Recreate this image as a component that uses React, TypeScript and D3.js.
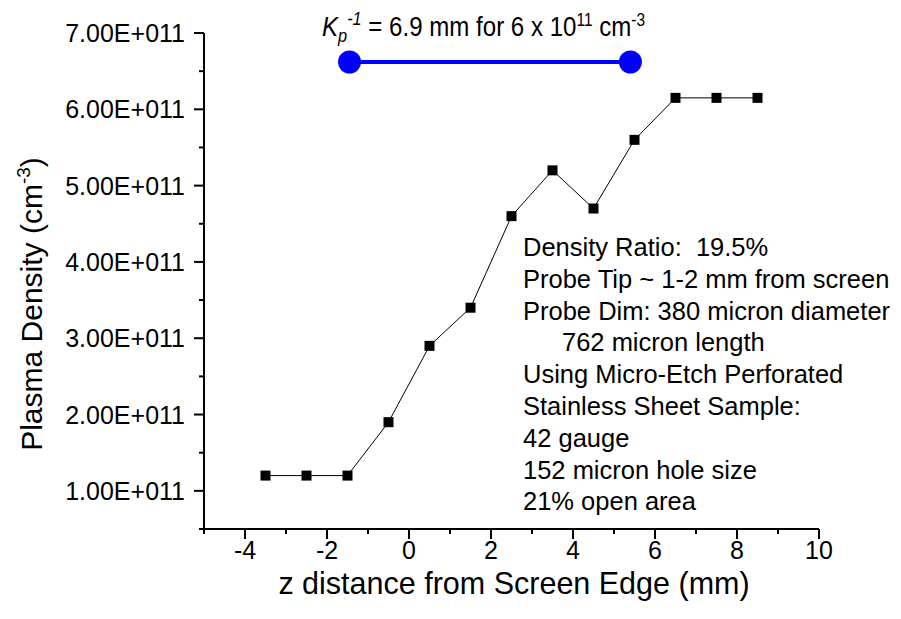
import React from "react";
import * as d3 from "d3";

const zValues = [-3.5, -2.5, -1.5, -0.5, 0.5, 1.5, 2.5, 3.5, 4.5, 5.5, 6.5, 7.5, 8.5];
const densityValues = [1.2e11, 1.2e11, 1.2e11, 1.9e11, 2.9e11, 3.4e11, 4.6e11, 5.2e11, 4.7e11, 5.6e11, 6.15e11, 6.15e11, 6.15e11];
const xMajorTicks = [-4, -2, 0, 2, 4, 6, 8, 10];
const xMinorTicks = [-5, -3, -1, 1, 3, 5, 7, 9];
const yMajorTicks = [1e11, 2e11, 3e11, 4e11, 5e11, 6e11, 7e11];
const yMinorTicks = [0.5e11, 1.5e11, 2.5e11, 3.5e11, 4.5e11, 5.5e11, 6.5e11];
const scaleBarZ = [-1.45, 5.4];
const scaleBarDensity = 6.62e11;
const annotationLines = [
  { text: "Density Ratio:  19.5%", indent: false },
  { text: "Probe Tip ~ 1-2 mm from screen", indent: false },
  { text: "Probe Dim: 380 micron diameter", indent: false },
  { text: "762 micron length", indent: true },
  { text: "Using Micro-Etch Perforated", indent: false },
  { text: "Stainless Sheet Sample:", indent: false },
  { text: "42 gauge", indent: false },
  { text: "152 micron hole size", indent: false },
  { text: "21% open area", indent: false },
];

const W = 901;
const H = 619;
const FONT = "'Liberation Sans', Arial, Helvetica, sans-serif";

const fmtY = (v: number) => {
  const m = v / 1e11;
  return `${m.toFixed(2)}E+011`;
};

export default function App() {
  const x = d3.scaleLinear().domain([-5, 10]).range([204, 819]);
  const y = d3.scaleLinear().domain([0.5e11, 7e11]).range([529, 33]);
  const line = d3
    .line<number>()
    .x((_, i) => x(zValues[i]))
    .y((d) => y(d));
  const x0 = x.range()[0];
  const y0 = y.range()[0];
  const ms = 10;

  return (
    <svg
      width={W}
      height={H}
      viewBox={`0 0 ${W} ${H}`}
      style={{ position: "absolute", left: 0, top: 0, background: "#fff" }}
    >
      <rect x={0} y={0} width={W} height={H} fill="#fff" />
      {/* axes */}
      <g stroke="#000" strokeWidth={2} fill="none">
        <line x1={x0} y1={y(7e11)} x2={x0} y2={y0 + 1} />
        <line x1={x0 - 1} y1={y0} x2={x(10)} y2={y0} />
        {yMajorTicks.map((t) => (
          <line key={"ym" + t} x1={x0 - 10} x2={x0} y1={y(t)} y2={y(t)} />
        ))}
        {yMinorTicks.map((t) => (
          <line key={"yn" + t} x1={x0 - 5} x2={x0} y1={y(t)} y2={y(t)} />
        ))}
        {xMajorTicks.map((t) => (
          <line key={"xm" + t} x1={x(t)} x2={x(t)} y1={y0} y2={y0 + 10} />
        ))}
        {xMinorTicks.map((t) => (
          <line key={"xn" + t} x1={x(t)} x2={x(t)} y1={y0} y2={y0 + 5} />
        ))}
      </g>
      {/* tick labels */}
      <g fontFamily={FONT} fontSize={25} fill="#000">
        {yMajorTicks.map((t) => (
          <text key={"yl" + t} x={x0 - 19} y={y(t) + 9} textAnchor="end">
            {fmtY(t)}
          </text>
        ))}
        {xMajorTicks.map((t) => (
          <text key={"xl" + t} x={x(t)} y={y0 + 30} textAnchor="middle">
            {t}
          </text>
        ))}
      </g>
      {/* axis titles */}
      <text
        x={514}
        y={594}
        textAnchor="middle"
        fontFamily={FONT}
        fontSize={30.5}
        fill="#000"
      >
        z distance from Screen Edge (mm)
      </text>
      <text
        transform={`translate(42, 304) rotate(-90)`}
        textAnchor="middle"
        fontFamily={FONT}
        fontSize={30}
        fill="#000"
      >
        Plasma Density (cm
        <tspan fontSize={19} dy={-12}>-3</tspan>
        <tspan dy={12}>)</tspan>
      </text>
      {/* data */}
      <path d={line(densityValues) || ""} fill="none" stroke="#000" strokeWidth={1} />
      {densityValues.map((d, i) => (
        <rect
          key={"m" + i}
          x={x(zValues[i]) - ms / 2}
          y={y(d) - ms / 2}
          width={ms}
          height={ms}
          fill="#000"
        />
      ))}
      {/* scale bar */}
      <line
        x1={x(scaleBarZ[0])}
        x2={x(scaleBarZ[1])}
        y1={y(scaleBarDensity)}
        y2={y(scaleBarDensity)}
        stroke="#0000ff"
        strokeWidth={4}
      />
      {scaleBarZ.map((z) => (
        <circle key={"c" + z} cx={x(z)} cy={y(scaleBarDensity)} r={11.5} fill="#0000ff" />
      ))}
      <g transform="translate(322,36) scale(0.86,1)">
        <text x={0} y={0} fontFamily={FONT} fontSize={28} fill="#000">
          <tspan fontStyle="italic">K</tspan>
          <tspan fontStyle="italic" fontSize={19} dy={6}>p</tspan>
          <tspan fontStyle="italic" fontSize={19} dy={-17}>-1</tspan>
          <tspan dy={11}> = 6.9 mm for 6 x 10</tspan>
          <tspan fontSize={18} dy={-10}>11</tspan>
          <tspan dy={10}> cm</tspan>
          <tspan fontSize={18} dy={-10}>-3</tspan>
        </text>
      </g>
      {/* annotation */}
      <g fontFamily={FONT} fontSize={25.5} fill="#000">
        {annotationLines.map((l, i) => (
          <text
            key={"a" + i}
            x={l.indent ? 562 : 523}
            y={256 + i * 31.8}
            style={{ whiteSpace: "pre" }}
          >
            {l.text}
          </text>
        ))}
      </g>
    </svg>
  );
}
